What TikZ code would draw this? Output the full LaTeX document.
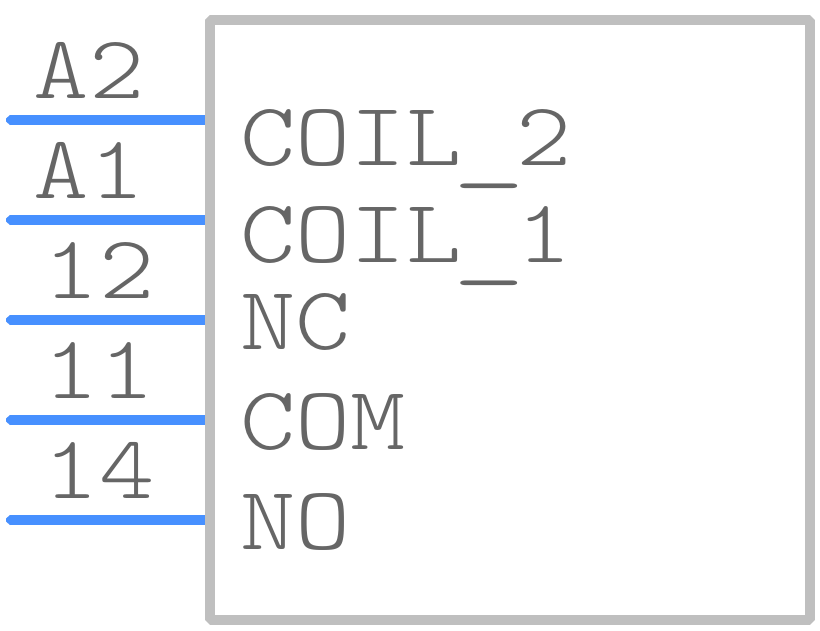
\documentclass[tikz,border=0pt]{standalone}
\usepackage{graphicx}
\definecolor{txt}{HTML}{666666}
\definecolor{pinc}{HTML}{4790FF}
\definecolor{boxc}{HTML}{BFBFBF}
\newcommand{\widetext}[1]{\scalebox{1.17}[1]{\fontsize{90}{90}\selectfont\ttfamily\fontseries{l}\selectfont #1}}
\newcommand{\lowbar}{\raisebox{-7pt}{\makebox[47.25pt][c]{\scalebox{1.33}[1]{\_}}}}
\tikzset{x=1pt,y=-1pt,
 pinlabel/.style={text=txt,anchor=base,inner sep=0pt},
 namelabel/.style={text=txt,anchor=base west,inner sep=0pt},
 pinline/.style={draw=pinc,line width=10pt,line cap=butt},
 pintip/.style={fill=pinc,draw=none},
 bodybox/.style={draw=boxc,line width=10pt,line join=bevel,fill=white}}
\begin{document}
\begin{tikzpicture}
\useasboundingbox (0,0) rectangle (820,630);
\fill[white] (0,0) rectangle (820,630);
\foreach \n/\y in {a/120,b/220,c/320,d/420,e/520}{
 \coordinate (s\n) at (10,\y);
 \coordinate (t\n) at (210,\y);
 \draw[pinline] (s\n) -- (t\n);
 \fill[pintip] (10,\y-5) -- (6,\y-1.5) -- (6,\y+1.5) -- (10,\y+5) -- cycle;
}
\draw[bodybox] (210,20) rectangle (810,620);
\node[pinlabel] (la) at (89,98) {\widetext{A2}};
\node[pinlabel] (lb) at (89,198) {\widetext{A1}};
\node[pinlabel] (lc) at (99,298) {\widetext{12}};
\node[pinlabel] (ld) at (99,398) {\widetext{11}};
\node[pinlabel] (le) at (99,498) {\widetext{14}};
\node[namelabel] (na) at (240,165) {\widetext{COIL\lowbar 2}};
\node[namelabel] (nb) at (240,262) {\widetext{COIL\lowbar 1}};
\node[namelabel] (nc) at (240,349) {\widetext{NC}};
\node[namelabel] (nd) at (240,449) {\widetext{COM}};
\node[namelabel] (ne) at (240,549) {\widetext{NO}};
\end{tikzpicture}
\end{document}
